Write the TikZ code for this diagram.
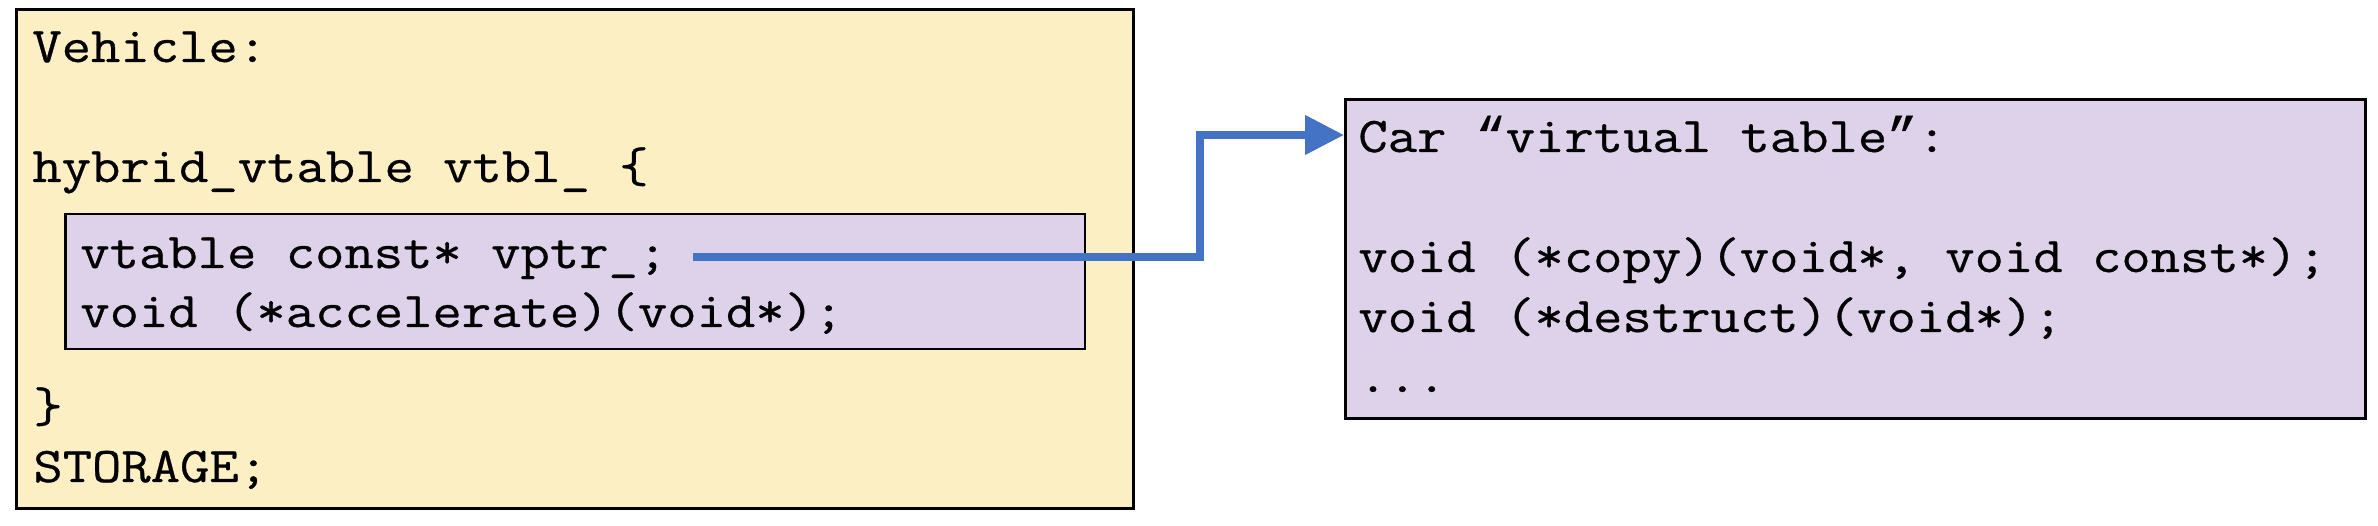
\documentclass[tikz,border=0pt]{standalone}
\usepackage{fontspec}
\setmonofont[FakeStretch=1.14,FakeBold=0.6]{Latin Modern Mono}
\newfontfamily\quotefont[FakeBold=0.6]{Liberation Mono}
\usetikzlibrary{arrows.meta}
\definecolor{yel}{HTML}{FCEFC3}
\definecolor{pur}{HTML}{DDD2EA}
\definecolor{arrowblue}{HTML}{4472C4}
\begin{document}
\begin{tikzpicture}[x=0.02cm,y=-0.02cm,
  code/.style={anchor=base west, inner sep=0pt, font=\ttfamily\fontsize{28.45}{34}\selectfont},
  box/.style={draw=black, line width=0.06cm, anchor=north west, inner sep=0pt},
  ptr/.style={draw=arrowblue, line width=0.15cm, line join=miter, -{Triangle[length=0.78cm,width=0.76cm]}}]
\useasboundingbox (0,0) rectangle (2378,526);
% boxes
\node[box, fill=yel, minimum width=22.34cm, minimum height=9.98cm] (vehicle) at (15,8) {};
\node[box, fill=pur, line width=0.05cm, minimum width=20.4cm, minimum height=2.7cm] (hybrid) at (64,213) {};
\node[box, fill=pur, minimum width=20.4cm, minimum height=6.38cm] (vt) at (1344,98) {};
% left texts
\node[code] (t1) at (32,62) {Vehicle:};
\node[code] (t2) at (32,182) {hybrid\_vtable vtbl\_ \{};
\node[code] (t3) at (80,268) {vtable const* vptr\_;};
\node[code] (t4) at (80,327) {void (*accelerate)(void*);};
\node[code] (t5) at (33,422) {\}};
\node[code] (t6) at (33,482) {STORAGE;};
% right texts
\node[code] (r1) at (1358,152) {Car \makebox[0.6em][c]{\quotefont “}virtual table\makebox[0.6em][c]{\quotefont ”}:};
\node[code] (r2) at (1358,272) {void (*copy)(void*, void const*);};
\node[code] (r3) at (1358,332) {void (*destruct)(void*);};
\node[code] (r4) at (1358,392) {...};
% pointer arrow
\coordinate (astart) at (693,257);
\coordinate (bend) at (1200,135);
\draw[ptr] (astart) -| (bend) -- (vt.west |- bend);
\end{tikzpicture}
\end{document}
